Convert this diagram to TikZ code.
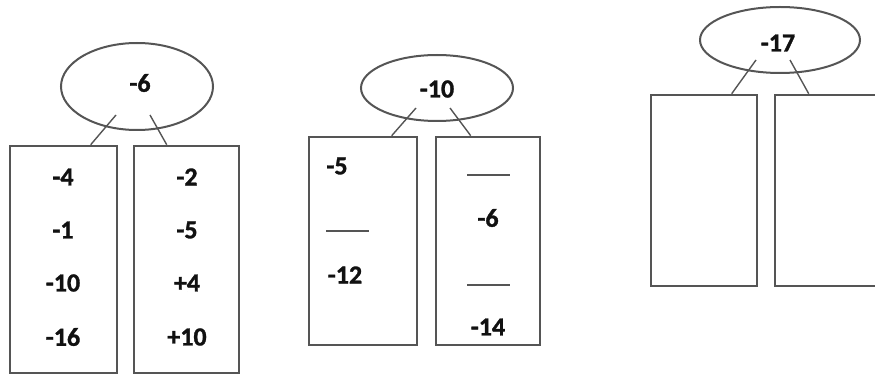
\documentclass[tikz,border=0pt]{standalone}
\usepackage{fontspec}
\setmainfont{Carlito}[BoldFeatures={FakeBold=1.2}]
\usetikzlibrary{shapes.geometric,calc}
\definecolor{edge}{HTML}{555555}
\definecolor{ink}{HTML}{111111}
\tikzset{
  sumbubble/.style={ellipse,draw=edge,line width=2pt,inner sep=0pt,
    font=\bfseries\fontsize{26}{30}\selectfont,text=ink},
  partbox/.style={rectangle,draw=edge,line width=2.6pt,inner sep=0pt},
  num/.style={inner sep=0pt,font=\bfseries\fontsize{26}{30}\selectfont,text=ink},
  link/.style={draw=edge,line width=1.4pt},
  bar/.style={draw=edge,line width=2.6pt}
}
\begin{document}
\begin{tikzpicture}[x=1pt,y=-1pt]
\useasboundingbox (0,0) rectangle (875,382);
\clip (0,0) rectangle (875,382);

% first tree: -6
\node[sumbubble,minimum width=152pt,minimum height=87pt] (e1) at (137,86.5) {};
\node[num] (t1) at (140,83) {-6};
\node[partbox,minimum width=107pt,minimum height=227pt] (b1) at (63.5,259.5) {};
\node[partbox,minimum width=105pt,minimum height=227pt] (b2) at (186.5,259.5) {};
\coordinate (l1) at (116,115);
\coordinate (r1) at (150,115);
\draw[link] (l1) -- ($(b1.north west)+(82,0)$);
\draw[link] (r1) -- ($(b2.north west)+(34,0)$);
\node[num] (a1) at (63,177) {-4};
\node[num] (a2) at (63,230) {-1};
\node[num] (a3) at (63,283) {-10};
\node[num] (a4) at (63,337) {-16};
\node[num] (a5) at (187,177) {-2};
\node[num] (a6) at (187,230) {-5};
\node[num] (a7) at (187,283) {+4};
\node[num] (a8) at (187,337) {+10};

% second tree: -10
\node[sumbubble,minimum width=152pt,minimum height=66pt] (e2) at (437,88) {};
\node[num] (t2) at (437,89) {-10};
\node[partbox,minimum width=108pt,minimum height=208pt] (b3) at (363,241) {};
\node[partbox,minimum width=104pt,minimum height=208pt] (b4) at (488,241) {};
\coordinate (l2) at (416,108);
\coordinate (r2) at (450,108);
\draw[link] (l2) -- ($(b3.north west)+(84,0)$);
\draw[link] (r2) -- ($(b4.north west)+(36,0)$);
\node[num] (c1) at (337,166) {-5};
\draw[bar] (326,231) -- (369,231);
\node[num] (c2) at (345,275) {-12};
\draw[bar] (467,175) -- (510,175);
\node[num] (c3) at (488,218) {-6};
\draw[bar] (467,285) -- (510,285);
\node[num] (c4) at (488,327) {-14};

% third tree: -17
\node[sumbubble,minimum width=160pt,minimum height=66pt] (e3) at (780,40) {};
\node[num] (t3) at (778,43) {-17};
\node[partbox,minimum width=106pt,minimum height=191pt] (b5) at (704,190.5) {};
\node[partbox,minimum width=106pt,minimum height=191pt] (b6) at (828,190.5) {};
\coordinate (l3) at (756,60);
\coordinate (r3) at (790,60);
\draw[link] (l3) -- ($(b5.north west)+(82,0)$);
\draw[link] (r3) -- ($(b6.north west)+(35,0)$);
\end{tikzpicture}
\end{document}
